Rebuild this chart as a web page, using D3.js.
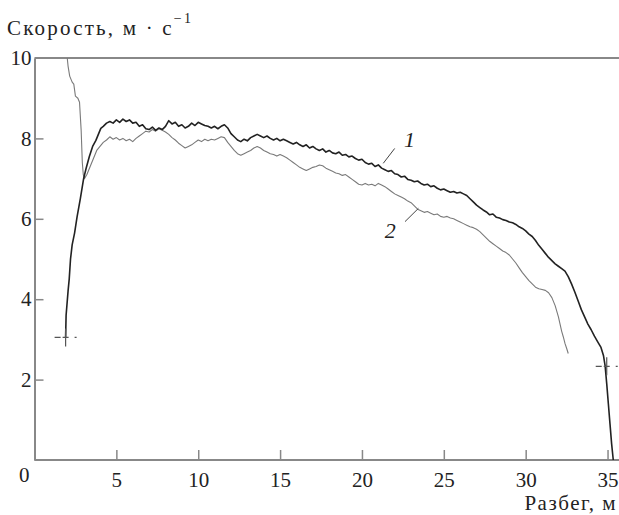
<!DOCTYPE html>
<html>
  <head>
    <script src="https://d3js.org/d3.v7.min.js"></script>
    <style>
      body { margin: 0; background: #fff; }
      #chart { background-color: #fff; }
      text { font-family: "Liberation Serif", "DejaVu Serif", serif; fill: #222; }
      .axis text { font-size: 21px; fill: #222; }
      .axis path, .axis line { stroke: #888; }
      .title { font-size: 21px; letter-spacing: 1.5px; }
      .title.y { letter-spacing: 2.2px; }
    </style>
  </head>
  <body>
    <svg id="chart"></svg>
    <script>
    // run 1 (dark line)
    var dist1 = [1.90, 1.93, 2.05, 2.12, 2.20, 2.30, 2.45, 2.60, 2.80, 3.00, 3.15, 3.35, 3.55, 3.75, 3.90, 4.05, 4.20, 4.40, 4.60, 4.80,
      5.00, 5.20, 5.40, 5.60, 5.80, 6.00, 6.20, 6.40, 6.60, 6.80, 7.00, 7.20, 7.40, 7.60, 7.80, 8.00, 8.20, 8.40, 8.60, 8.80,
      9.00, 9.20, 9.40, 9.60, 9.80, 10.0, 10.2, 10.4, 10.6, 10.8, 11.0, 11.2, 11.4, 11.6, 11.8, 12.0, 12.2, 12.4, 12.6, 12.8,
      13.0, 13.2, 13.4, 13.6, 13.8, 14.0, 14.2, 14.4, 14.6, 14.8, 15.0, 15.2, 15.4, 15.6, 15.8, 16.0, 16.2, 16.4, 16.6, 16.8,
      17.0, 17.2, 17.4, 17.6, 17.8, 18.0, 18.2, 18.4, 18.6, 18.8, 19.0, 19.2, 19.4, 19.6, 19.8, 20.0, 20.2, 20.4, 20.6, 20.8,
      21.0, 21.2, 21.4, 21.6, 21.8, 22.0, 22.2, 22.4, 22.6, 22.8, 23.0, 23.2, 23.4, 23.6, 23.8, 24.0, 24.2, 24.4, 24.6, 24.8,
      25.0, 25.2, 25.4, 25.6, 25.8, 26.0, 26.2, 26.4, 26.6, 26.8, 27.0, 27.2, 27.4, 27.6, 27.8, 28.0, 28.2, 28.4, 28.6, 28.8,
      29.0, 29.2, 29.4, 29.6, 29.8, 30.0, 30.2, 30.4, 30.6, 30.8, 31.0, 31.2, 31.4, 31.6, 31.8, 32.0, 32.2, 32.4, 32.6, 32.8,
      33.0, 33.2, 33.4, 33.6, 33.8, 34.0, 34.2, 34.4, 34.6, 34.75, 34.85, 34.95, 35.05, 35.15, 35.25, 35.35];
    var speed1 = [3.05, 3.60, 4.20, 4.50, 5.00, 5.35, 5.65, 6.05, 6.50, 7.00, 7.25, 7.55, 7.80, 7.95, 8.10, 8.25, 8.30, 8.38, 8.42, 8.38,
      8.46, 8.40, 8.48, 8.42, 8.46, 8.38, 8.40, 8.30, 8.34, 8.24, 8.22, 8.28, 8.20, 8.26, 8.22, 8.30, 8.44, 8.36, 8.40, 8.30,
      8.34, 8.26, 8.30, 8.38, 8.32, 8.40, 8.36, 8.32, 8.30, 8.26, 8.30, 8.24, 8.30, 8.34, 8.26, 8.12, 8.04, 7.96, 7.92, 7.98,
      7.94, 8.02, 8.06, 8.10, 8.06, 8.02, 8.06, 8.00, 7.96, 8.00, 7.94, 7.98, 7.94, 7.90, 7.86, 7.90, 7.84, 7.80, 7.84, 7.76,
      7.80, 7.74, 7.70, 7.74, 7.66, 7.70, 7.64, 7.62, 7.66, 7.58, 7.60, 7.54, 7.56, 7.50, 7.46, 7.48, 7.40, 7.36, 7.38, 7.30,
      7.34, 7.26, 7.22, 7.18, 7.20, 7.12, 7.10, 7.04, 7.06, 6.98, 6.96, 6.92, 6.94, 6.88, 6.84, 6.86, 6.80, 6.82, 6.76, 6.72,
      6.74, 6.70, 6.66, 6.68, 6.64, 6.66, 6.62, 6.58, 6.50, 6.42, 6.34, 6.28, 6.22, 6.17, 6.10, 6.12, 6.04, 6.02, 5.98, 5.96,
      5.92, 5.90, 5.86, 5.80, 5.76, 5.70, 5.62, 5.56, 5.46, 5.34, 5.24, 5.14, 5.04, 4.96, 4.88, 4.82, 4.76, 4.70, 4.56, 4.38,
      4.18, 3.96, 3.74, 3.56, 3.38, 3.24, 3.08, 2.94, 2.80, 2.60, 2.35, 1.90, 1.40, 0.90, 0.40, 0.00];

    // run 2 (light line)
    var dist2 = [2.00, 2.05, 2.15, 2.30, 2.40, 2.50, 2.65, 2.75, 2.85, 2.92, 2.98, 3.05, 3.20, 3.40, 3.60, 3.80, 4.00, 4.20, 4.40, 4.60,
      4.80, 5.00, 5.20, 5.40, 5.60, 5.80, 6.00, 6.20, 6.40, 6.60, 6.80, 7.00, 7.20, 7.40, 7.60, 7.80, 8.00, 8.20, 8.40, 8.60,
      8.80, 9.00, 9.20, 9.40, 9.60, 9.80, 10.0, 10.2, 10.4, 10.6, 10.8, 11.0, 11.2, 11.4, 11.6, 11.8, 12.0, 12.2, 12.4, 12.6,
      12.8, 13.0, 13.2, 13.4, 13.6, 13.8, 14.0, 14.2, 14.4, 14.6, 14.8, 15.0, 15.2, 15.4, 15.6, 15.8, 16.0, 16.2, 16.4, 16.6,
      16.8, 17.0, 17.2, 17.4, 17.6, 17.8, 18.0, 18.2, 18.4, 18.6, 18.8, 19.0, 19.2, 19.4, 19.6, 19.8, 20.0, 20.2, 20.4, 20.6,
      20.8, 21.0, 21.2, 21.4, 21.6, 21.8, 22.0, 22.2, 22.4, 22.6, 22.8, 23.0, 23.2, 23.4, 23.6, 23.8, 24.0, 24.2, 24.4, 24.6,
      24.8, 25.0, 25.2, 25.4, 25.6, 25.8, 26.0, 26.2, 26.4, 26.6, 26.8, 27.0, 27.2, 27.4, 27.6, 27.8, 28.0, 28.2, 28.4, 28.6,
      28.8, 29.0, 29.2, 29.4, 29.6, 29.8, 30.0, 30.2, 30.4, 30.6, 30.8, 31.0, 31.2, 31.4, 31.6, 31.8, 32.0, 32.1, 32.2, 32.3,
      32.4, 32.5, 32.6];
    var speed2 = [10.0, 9.80, 9.55, 9.40, 9.35, 9.05, 9.00, 8.90, 8.20, 7.40, 7.10, 7.00, 7.10, 7.30, 7.50, 7.70, 7.80, 7.90, 7.96, 8.04,
      7.98, 8.02, 7.96, 8.00, 7.94, 7.98, 7.92, 8.00, 8.06, 8.12, 8.18, 8.16, 8.22, 8.18, 8.24, 8.20, 8.16, 8.10, 8.02, 7.96,
      7.88, 7.82, 7.76, 7.80, 7.84, 7.90, 7.96, 7.92, 7.98, 7.94, 7.98, 7.96, 8.00, 8.04, 8.02, 7.90, 7.80, 7.70, 7.62, 7.58,
      7.62, 7.66, 7.70, 7.76, 7.80, 7.76, 7.70, 7.66, 7.62, 7.60, 7.56, 7.60, 7.56, 7.52, 7.46, 7.40, 7.34, 7.28, 7.24, 7.20,
      7.24, 7.28, 7.30, 7.34, 7.32, 7.26, 7.22, 7.18, 7.14, 7.12, 7.08, 7.10, 7.04, 6.98, 6.92, 6.86, 6.84, 6.88, 6.84, 6.86,
      6.82, 6.88, 6.84, 6.80, 6.74, 6.68, 6.62, 6.58, 6.54, 6.50, 6.44, 6.40, 6.32, 6.24, 6.20, 6.16, 6.18, 6.14, 6.10, 6.12,
      6.06, 6.04, 6.06, 6.02, 6.00, 5.96, 5.92, 5.88, 5.84, 5.80, 5.78, 5.74, 5.68, 5.60, 5.52, 5.44, 5.38, 5.32, 5.26, 5.20,
      5.16, 5.10, 5.00, 4.90, 4.78, 4.66, 4.56, 4.46, 4.38, 4.30, 4.26, 4.24, 4.22, 4.16, 4.04, 3.84, 3.56, 3.38, 3.20, 3.06,
      2.90, 2.78, 2.65];

    var xTicks = [5, 10, 15, 20, 25, 30, 35];
    var yTicks = [0, 2, 4, 6, 8, 10];
    var marks = [[1.90, 3.05], [34.95, 2.33]];    // start / stop crosses
    var curveLabels = ["1", "2"];
    var labelAt = [[22.57, 7.79], [21.4, 5.52]];   // label baseline positions (data units)
    var leaderFrom = [[22.0, 7.75], [22.63, 5.93]];
    var leaderTo = [[21.3, 7.38], [23.45, 6.26]];   // where the leader touches the curve

    var W = 619, H = 515;
    var svg = d3.select('#chart').attr('width', W).attr('height', H);

    var x = d3.scaleLinear().domain([0, 35.7]).range([34.5, 619]);
    var y = d3.scaleLinear().domain([0, 10]).range([460, 58]);

    // frame: top line (no right border)
    svg.append('line')
      .attr('x1', x(0)).attr('x2', W)
      .attr('y1', y(10)).attr('y2', y(10))
      .attr('stroke', '#888').attr('stroke-width', 2);

    var xAxis = d3.axisBottom(x).tickValues(xTicks).tickSizeInner(-10).tickSizeOuter(0).tickPadding(12);
    var yAxis = d3.axisLeft(y).tickValues(yTicks).tickSizeInner(-9).tickSizeOuter(0).tickPadding(3);

    var gx = svg.append('g').attr('class', 'axis x')
      .attr('transform', `translate(0, ${ y(0) })`).call(xAxis);
    gx.select('.domain').attr('d', `M${ x(0) },0H${ W }`).attr('stroke-width', 2);
    gx.selectAll('.tick line').attr('stroke-width', 1.5);

    var gy = svg.append('g').attr('class', 'axis y')
      .attr('transform', `translate(${ x(0) }, 0)`).call(yAxis);
    gy.select('.domain').attr('stroke-width', 2);
    gy.selectAll('.tick line').attr('stroke-width', 1.5)
      .filter(d => d === 0 || d === 10).remove();
    gy.selectAll('.tick text').filter(d => d === 0).attr('dy', '1.0em').attr('dx', -2);

    var line = d3.line().x(d => x(d[0])).y(d => y(d[1]));

    svg.append('path')
      .datum(d3.zip(dist2, speed2))
      .attr('d', line)
      .attr('fill', 'none').attr('stroke', '#7a7a7a').attr('stroke-width', 1.1)
      .attr('stroke-linejoin', 'round');

    svg.append('path')
      .datum(d3.zip(dist1, speed1))
      .attr('d', line)
      .attr('fill', 'none').attr('stroke', '#222').attr('stroke-width', 1.6)
      .attr('stroke-linejoin', 'round');

    // crosses
    var cross = svg.append('g').selectAll('g').data(marks).enter().append('g')
      .attr('transform', d => `translate(${ x(d[0]) }, ${ y(d[1]) })`);
    cross.append('line').attr('x1', -11).attr('x2', 11)
      .attr('stroke', '#555').attr('stroke-width', 1.2).attr('stroke-dasharray', '6,2,6');
    cross.append('line').attr('y1', -9).attr('y2', 9)
      .attr('stroke', '#555').attr('stroke-width', 1.2);

    // curve labels with leader lines
    svg.append('g').selectAll('line').data(curveLabels).enter().append('line')
      .attr('x1', (d, i) => x(leaderFrom[i][0]))
      .attr('y1', (d, i) => y(leaderFrom[i][1]))
      .attr('x2', (d, i) => x(leaderTo[i][0]))
      .attr('y2', (d, i) => y(leaderTo[i][1]))
      .attr('stroke', '#444').attr('stroke-width', 1);

    svg.append('g').selectAll('text').data(curveLabels).enter().append('text')
      .attr('x', (d, i) => x(labelAt[i][0]))
      .attr('y', (d, i) => y(labelAt[i][1]))
      .attr('font-size', 22).attr('font-style', 'italic')
      .text(d => d);

    // axis titles
    var title = svg.append('text').attr('class', 'title y').attr('x', 7).attr('y', 35);
    title.append('tspan').text('Скорость, м · с');
    title.append('tspan').attr('dy', -12).attr('font-size', 14).text('−1');

    svg.append('text').attr('class', 'title').attr('x', 617).attr('y', 510).attr('text-anchor', 'end')
      .text('Разбег, м');
    </script>
  </body>
</html>
